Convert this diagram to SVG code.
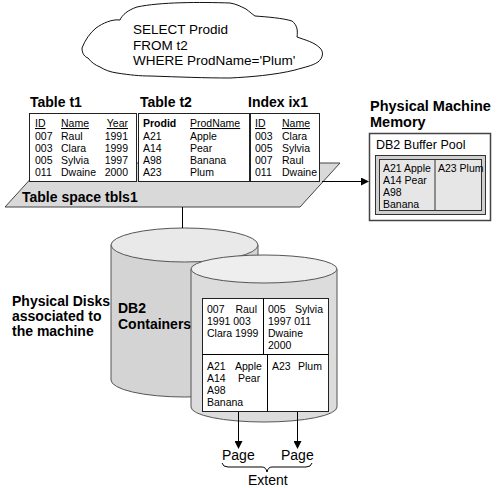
<svg xmlns="http://www.w3.org/2000/svg" width="500" height="488" viewBox="0 0 500 488">
<style>
text{font-family:"Liberation Sans",Arial,sans-serif;fill:#000}
.t{font-size:10.5px}
.c{font-size:13.5px}
.h{font-size:14px;font-weight:bold}
.p{font-size:14px}
.u{text-decoration:underline}
.b{font-weight:bold}
.box{fill:#fff;stroke:#222;stroke-width:1}
.ln{stroke:#000;stroke-width:1;fill:none}
</style>
<defs>
<marker id="ah" markerWidth="8" markerHeight="8" refX="7" refY="4" orient="auto" markerUnits="userSpaceOnUse">
<path d="M0,0 L8,4 L0,8 Z" fill="#000"/>
</marker>
</defs>
<rect width="500" height="488" fill="#fff"/>

<g id="query-cloud">
<path d="M230,3 C200,2 160,2 137,7 C128,10 122,15 120,20 C112,19 103,23 96,28 C90,33 85,40 82,48 C82,54 85,57 88,58 C91,62 95,65 100,67 C105,70 110,72 117,73 C130,75 140,76 150,76 C180,77 205,78 230,78 C250,77 275,75 295,70 C305,67 312,66 318,62 C323,58 324,52 320,48 C314,42 305,40 297,37 C298,30 297,25 292,21 C282,18 268,17 255,16 C252,14 250,12 246,9 C240,6 236,4 230,3 Z" fill="#fff" stroke="#111" stroke-width="1"/>
<text class="c" x="133" y="34">SELECT Prodid</text>
<text class="c" x="133" y="50">FROM t2</text>
<text class="c" x="133" y="65">WHERE ProdName='Plum'</text>
</g>

<g id="tablespace-tbls1">
<polygon points="5,207 300,207 340,163 45,163" fill="#d9d9d9" stroke="#444" stroke-width="1"/>
<text class="h" x="22" y="202">Table space tbls1</text>
</g>

<g id="table-t1">
<text class="h" x="30" y="107">Table t1</text>
<rect class="box" x="29.5" y="113.5" width="107" height="68"/>
<text class="t u" x="35" y="127">ID</text>
<text class="t u" x="61" y="127">Name</text>
<text class="t u" x="128" y="127" text-anchor="end">Year</text>
<text class="t" x="35" y="139.5">007</text><text class="t" x="61" y="139.5">Raul</text><text class="t" x="128" y="139.5" text-anchor="end">1991</text>
<text class="t" x="35" y="151.7">003</text><text class="t" x="61" y="151.7">Clara</text><text class="t" x="128" y="151.7" text-anchor="end">1999</text>
<text class="t" x="35" y="163.9">005</text><text class="t" x="61" y="163.9">Sylvia</text><text class="t" x="128" y="163.9" text-anchor="end">1997</text>
<text class="t" x="35" y="176">011</text><text class="t" x="61" y="176">Dwaine</text><text class="t" x="128" y="176" text-anchor="end">2000</text>
</g>

<g id="table-t2">
<text class="h" x="140" y="107">Table t2</text>
<rect class="box" x="138.5" y="113.5" width="111" height="68"/>
<text class="t b" x="143" y="127">Prodid</text>
<text class="t u" x="190" y="127">ProdName</text>
<text class="t" x="143" y="139.5">A21</text><text class="t" x="190" y="139.5">Apple</text>
<text class="t" x="143" y="151.7">A14</text><text class="t" x="190" y="151.7">Pear</text>
<text class="t" x="143" y="163.9">A98</text><text class="t" x="190" y="163.9">Banana</text>
<text class="t" x="143" y="176">A23</text><text class="t" x="190" y="176">Plum</text>
</g>

<g id="index-ix1">
<text class="h" x="248" y="107">Index ix1</text>
<rect class="box" x="250.5" y="113.5" width="69" height="68"/>
<text class="t u" x="255" y="127">ID</text>
<text class="t u" x="282" y="127">Name</text>
<text class="t" x="255" y="139.5">003</text><text class="t" x="282" y="139.5">Clara</text>
<text class="t" x="255" y="151.7">005</text><text class="t" x="282" y="151.7">Sylvia</text>
<text class="t" x="255" y="163.9">007</text><text class="t" x="282" y="163.9">Raul</text>
<text class="t" x="255" y="176">011</text><text class="t" x="282" y="176">Dwaine</text>
</g>

<g id="physical-memory">
<text class="h" x="370" y="111" style="font-size:14.5px">Physical Machine</text>
<text class="h" x="370" y="127" style="font-size:14.5px">Memory</text>
<rect x="369.5" y="133.5" width="121" height="87" fill="#fff" stroke="#444" stroke-width="1.5"/>
<text class="c" x="376" y="149" style="font-size:12.5px">DB2 Buffer Pool</text>
<rect x="375.5" y="155.5" width="110" height="59" fill="#d0d0d0" stroke="#333" stroke-width="1"/>
<rect x="379.5" y="159.5" width="102" height="51" fill="#e6e6e6" stroke="#333" stroke-width="1"/>
<line x1="435" y1="159.5" x2="435" y2="210.5" stroke="#333"/>
<text class="t" x="383" y="172">A21 Apple</text>
<text class="t" x="383" y="184">A14 Pear</text>
<text class="t" x="383" y="196">A98</text>
<text class="t" x="383" y="208">Banana</text>
<text class="t" x="438" y="172">A23 Plum</text>
</g>

<g id="physical-disks-label">
<text class="h" x="12" y="306">Physical Disks</text>
<text class="h" x="12" y="321">associated to</text>
<text class="h" x="12" y="336">the machine</text>
</g>

<g id="disk-back">
<path d="M111,245 L111,380 A73.5,17 0 0 0 258,380 L258,245 Z" fill="#d4d4d4" stroke="#555" stroke-width="1"/>
<ellipse cx="184.5" cy="245" rx="73.5" ry="17" fill="#e9e9e9" stroke="#555" stroke-width="1"/>
<text class="h" x="118" y="313">DB2</text>
<text class="h" x="118" y="329">Containers</text>
</g>

<g id="disk-front">
<path d="M191,269 L191,407 A73,15 0 0 0 337,407 L337,269 Z" fill="#dcdcdc" stroke="#555" stroke-width="1"/>
<ellipse cx="264" cy="269" rx="73" ry="14" fill="#eeeeee" stroke="#555" stroke-width="1"/>
<rect class="box" x="202.5" y="298.5" width="126" height="113"/>
<line class="ln" x1="202.5" y1="354.5" x2="328.5" y2="354.5"/>
<line class="ln" x1="263.5" y1="298.5" x2="263.5" y2="354.5"/>
<line class="ln" x1="267.5" y1="354.5" x2="267.5" y2="411.5"/>
<text class="t" x="207" y="313">007</text><text class="t" x="257" y="313" text-anchor="end">Raul</text>
<text class="t" x="207" y="325">1991 003</text>
<text class="t" x="207" y="337">Clara 1999</text>
<text class="t" x="268" y="313">005</text><text class="t" x="323" y="313" text-anchor="end">Sylvia</text>
<text class="t" x="268" y="325">1997 011</text>
<text class="t" x="268" y="337">Dwaine</text>
<text class="t" x="268" y="349">2000</text>
<text class="t" x="207" y="370">A21</text><text class="t" x="235" y="370">Apple</text>
<text class="t" x="207" y="382">A14</text><text class="t" x="238" y="382">Pear</text>
<text class="t" x="207" y="394">A98</text>
<text class="t" x="207" y="406">Banana</text>
<text class="t" x="272" y="370">A23</text><text class="t" x="298" y="370">Plum</text>
</g>

<g id="pages-extent">
<text class="p" x="222" y="460">Page</text>
<text class="p" x="281" y="460">Page</text>
<path d="M222,463 Q223,467 228,467 L262,467 Q266,467 267,472 Q268,467 272,467 L306,467 Q311,467 312,463" class="ln"/>
<text class="p" x="248" y="485">Extent</text>
</g>

<g id="connectors">
<line class="ln" x1="182.5" y1="207" x2="182.5" y2="228"/>
<line class="ln" x1="322" y1="181.5" x2="368" y2="181.5" marker-end="url(#ah)"/>
<line class="ln" x1="238.5" y1="411.5" x2="238.5" y2="448" marker-end="url(#ah)"/>
<line class="ln" x1="297.5" y1="411.5" x2="297.5" y2="448" marker-end="url(#ah)"/>
</g>
</svg>
